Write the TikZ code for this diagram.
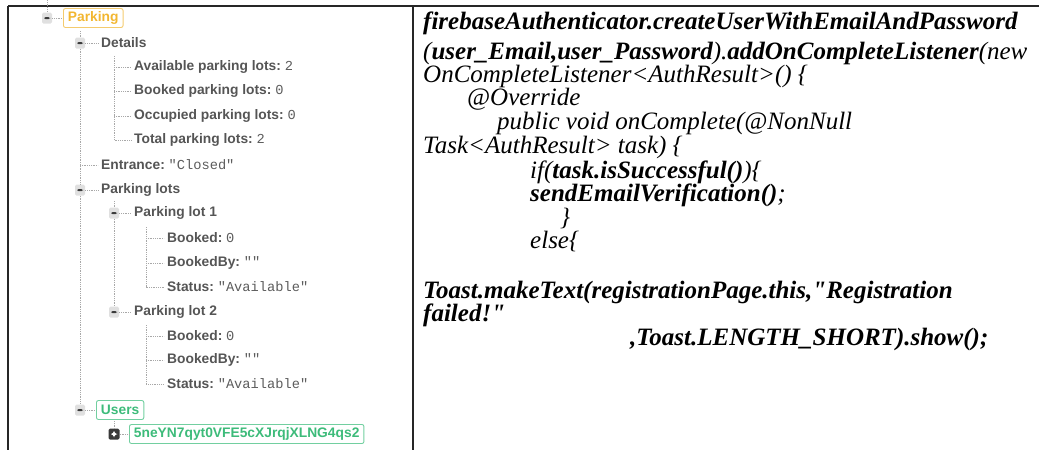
\documentclass[tikz,border=0pt]{standalone}
\usepackage{fontspec}
\setmainfont{Liberation Serif}[Ligatures=TeXOff]
\setsansfont{Liberation Sans}
\setmonofont{Liberation Mono}
\definecolor{keygray}{HTML}{555555}
\definecolor{valgray}{HTML}{5C5C5C}
\definecolor{dotgray}{HTML}{A8A8A8}
\definecolor{iconbg}{HTML}{E0E0E0}
\definecolor{icondk}{HTML}{3A3A3A}
\definecolor{fbOrange}{HTML}{F2B630}
\definecolor{fbOrangeBd}{HTML}{F4CB6E}
\definecolor{fbGreen}{HTML}{3DBB7A}
\definecolor{fbGreenBd}{HTML}{72CFA0}
\newcommand{\kv}[2]{#1\ {\ttfamily\mdseries\fontsize{13.7}{16}\selectfont\color{valgray}#2}}
\tikzset{
  keytext/.style={font=\sffamily\bfseries\fontsize{13.8}{16}\selectfont, text=keygray, anchor=west, inner sep=0pt},
  minusicon/.style={rectangle, fill=iconbg, rounded corners=1.5pt, minimum width=10pt, minimum height=11pt, inner sep=0pt,
    path picture={\fill[icondk] ([xshift=-3pt,yshift=-1pt]path picture bounding box.center) rectangle ([xshift=3pt,yshift=1pt]path picture bounding box.center);}},
  plusicon/.style={rectangle, fill=icondk, rounded corners=1.5pt, minimum size=11pt, inner sep=0pt,
    path picture={\fill[white] ([xshift=-3pt,yshift=-1pt]path picture bounding box.center) rectangle ([xshift=3pt,yshift=1pt]path picture bounding box.center);
                  \fill[white] ([xshift=-1pt,yshift=-3pt]path picture bounding box.center) rectangle ([xshift=1pt,yshift=3pt]path picture bounding box.center);}},
  branch/.style={dotgray, densely dotted, line width=0.8pt},
  obox/.style={font=\sffamily\bfseries\fontsize{13.8}{16}\selectfont, text=fbOrange, draw=fbOrangeBd, rounded corners=2pt, line width=0.9pt, anchor=west, inner xsep=4.5pt, inner ysep=0pt, minimum height=19pt},
  gbox/.style={obox, text=fbGreen, draw=fbGreenBd},
  rule/.style={line width=1.6pt, black!85},
  code/.style={anchor=base west, inner sep=0pt, font=\fontsize{25}{28}\selectfont\itshape},
}
\begin{document}
\begin{tikzpicture}[x=1pt,y=-1pt]
\useasboundingbox (0,0) rectangle (1039,450);
% table rules
\draw[rule] (8,6) -- (1039,6);
\draw[rule] (8,6) -- (8,450);
\draw[rule] (413,6) -- (413,450);

% ---------- tree ----------
\coordinate (top0) at (47,0);
\node[minusicon] (iPark) at (47,18) {};
\node[obox] (bPark) at (63,18) {Parking};
\draw[branch] (top0) -- (iPark.north);
\draw[branch] (iPark.east) -- (bPark.west);

\coordinate (top1) at (80,31);
\node[minusicon] (iDet) at (80,43) {};
\node[keytext] (tDet) at (101,43) {Details};
\draw[branch] (top1) -- (iDet.north);
\draw[branch] (iDet.east) -- ([xshift=-3pt]tDet.west);

\coordinate (top2) at (114,56);
\node[keytext] (tAv) at (134,67) {\kv{Available parking lots:}{2}};
\node[keytext] (tBk) at (134,91) {\kv{Booked parking lots:}{0}};
\node[keytext] (tOc) at (134,116) {\kv{Occupied parking lots:}{0}};
\node[keytext] (tTo) at (134,140) {\kv{Total parking lots:}{2}};
\draw[branch] (top2) |- ([xshift=-3pt]tTo.west);
\foreach \n in {tAv,tBk,tOc} \draw[branch] (top2 |- \n.west) -- ([xshift=-3pt]\n.west);

\node[keytext] (tEn) at (101,165) {\kv{Entrance:}{"Closed"}};
\node[minusicon] (iLots) at (80,190) {};
\node[keytext] (tLots) at (101,190) {Parking lots};
\node[minusicon] (iUsers) at (80,410) {};
\draw[branch] (iDet.south) -- (iLots.north);
\draw[branch] (iLots.south) -- (iUsers.north);
\draw[branch] (iLots.center |- tEn.west) -- ([xshift=-3pt]tEn.west);
\draw[branch] (iLots.east) -- ([xshift=-3pt]tLots.west);

\coordinate (top3) at (114,201);
\node[minusicon] (iL1) at (114,213) {};
\node[keytext] (tL1) at (134,213) {Parking lot 1};
\node[minusicon] (iL2) at (114,312) {};
\node[keytext] (tL2) at (134,312) {Parking lot 2};
\draw[branch] (top3) -- (iL1.north);
\draw[branch] (iL1.south) -- (iL2.north);
\draw[branch] (iL1.east) -- ([xshift=-3pt]tL1.west);
\draw[branch] (iL2.east) -- ([xshift=-3pt]tL2.west);

\coordinate (top4) at (146,227);
\node[keytext] (a1) at (167,238) {\kv{Booked:}{0}};
\node[keytext] (a2) at (167,263) {\kv{BookedBy:}{""}};
\node[keytext] (a3) at (167,287) {\kv{Status:}{"Available"}};
\draw[branch] (top4) |- ([xshift=-3pt]a3.west);
\foreach \n in {a1,a2} \draw[branch] (top4 |- \n.west) -- ([xshift=-3pt]\n.west);

\coordinate (top5) at (146,325);
\node[keytext] (b1) at (167,336) {\kv{Booked:}{0}};
\node[keytext] (b2) at (167,360) {\kv{BookedBy:}{""}};
\node[keytext] (b3) at (167,384) {\kv{Status:}{"Available"}};
\draw[branch] (top5) |- ([xshift=-3pt]b3.west);
\foreach \n in {b1,b2} \draw[branch] (top5 |- \n.west) -- ([xshift=-3pt]\n.west);

\node[gbox] (bUsers) at (96,410) {Users};
\draw[branch] (iUsers.east) -- (bUsers.west);
\coordinate (top6) at (114,421);
\node[plusicon] (iKey) at (114,434) {};
\node[gbox] (bKey) at (129,434) {5neYN7qyt0VFE5cXJrqjXLNG4qs2};
\draw[branch] (top6) -- (iKey.north);
\draw[branch] (iKey.east) -- (bKey.west);

% ---------- code ----------
\node[code] (c1) at (423,29) {\textbf{firebaseAuthenticator.createUserWithEmailAndPassword}};
\node[code] (c2) at (423,59) {(\textbf{user\_Email,user\_Password}).\textbf{addOnCompleteListener}(new};
\node[code] (c3) at (423,82) {OnCompleteListener<AuthResult>() \{};
\node[code] (c4) at (467,105) {@Override};
\node[code] (c5) at (497,129) {public void onComplete(@NonNull};
\node[code] (c6) at (423,153) {Task<AuthResult> task) \{};
\node[code] (c7) at (530,178) {if(\textbf{task.isSuccessful()})\{};
\node[code] (c8) at (530,201) {\textbf{sendEmailVerification()};};
\node[code] (c9) at (560,225) {\}};
\node[code] (c10) at (530,248) {else\{};
\node[code] (c11) at (423,298) {\textbf{Toast.makeText(registrationPage.this,"Registration}};
\node[code] (c12) at (423,321) {\textbf{failed!"}};
\node[code] (c13) at (630,345) {\textbf{,Toast.LENGTH\_SHORT).show();}};
\end{tikzpicture}
\end{document}
